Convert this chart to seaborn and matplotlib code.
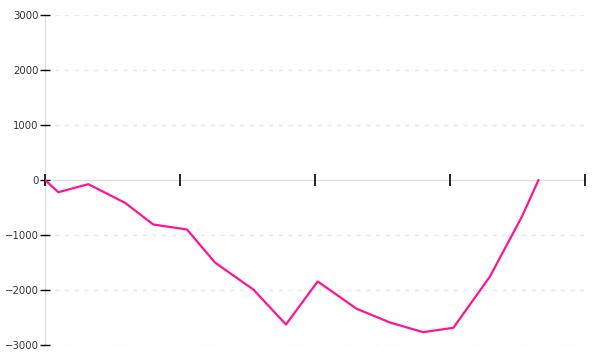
import matplotlib
matplotlib.use("Agg")
import matplotlib.pyplot as plt
import seaborn as sns
import pandas as pd

# Data
x_values = [0, 0.099, 0.321, 0.593, 0.802, 1.052, 1.259, 1.543, 1.785,
            2.020, 2.309, 2.556, 2.802, 3.025, 3.296, 3.533, 3.656]
y_values = [0, -222, -76, -415, -809, -900, -1500, -1991, -2627,
            -1845, -2342, -2591, -2767, -2687, -1755, -664, 0]
x_ticks = [0, 1, 2, 3, 4]
y_ticks = [-3000, -2000, -1000, 0, 1000, 2000, 3000]

df = pd.DataFrame({"x": x_values, "y": y_values})

sns.set_style("white")
plt.rcParams["font.family"] = ["DejaVu Sans"]

fig = plt.figure(figsize=(6, 3.6), dpi=100)
ax = fig.add_axes([0.075, 0.04167, 0.9, 0.91667])

sns.lineplot(data=df, x="x", y="y", sort=False, color="#ff1493",
             linewidth=1.6, ax=ax)

ax.set_xlim(0, 4)
ax.set_ylim(-3000, 3000)
ax.set_xticks(x_ticks)
ax.set_yticks(y_ticks)
ax.set_xlabel("")
ax.set_ylabel("")

for s in ["top", "right"]:
    ax.spines[s].set_visible(False)
ax.spines["bottom"].set_position(("data", 0))
for s in ["bottom", "left"]:
    ax.spines[s].set_color("#dddddd")
    ax.spines[s].set_linewidth(1)
    ax.spines[s].set_zorder(0.3)

ax.tick_params(axis="x", bottom=True, direction="inout", length=9, width=1.2,
               color="black", labelbottom=False)
ax.tick_params(axis="y", left=True, direction="inout", length=7, width=1,
               color="black", labelsize=7.3, labelcolor="#333333", pad=1)

ax.yaxis.grid(True, linestyle=(0, (3, 4)), color="#e8e8e8", linewidth=1)
ax.xaxis.grid(False)
ax.set_axisbelow(True)
for t, gl in zip(y_ticks, ax.yaxis.get_gridlines()):
    if t == 0:
        gl.set_visible(False)

fig.savefig("out.png", dpi=100)
